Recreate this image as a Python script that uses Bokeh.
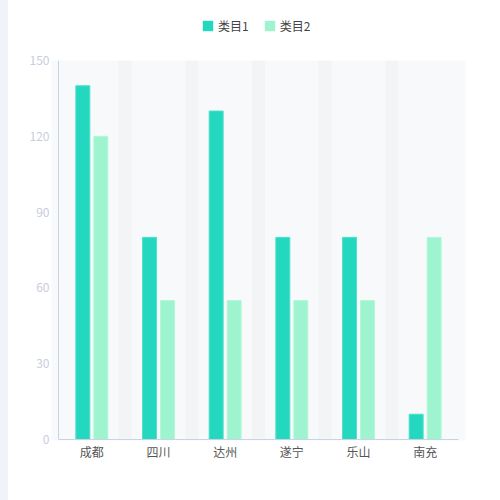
from bokeh.plotting import figure
from bokeh.models import Range1d, FixedTicker, Legend, LegendItem, ColumnDataSource, Spacer
from bokeh.layouts import column, row
from bokeh.embed import file_html
from bokeh.resources import INLINE

categories = ["成都", "四川", "达州", "遂宁", "乐山", "南充"]
series1 = [140, 80, 130, 80, 80, 10]
series2 = [120, 55, 55, 55, 55, 80]
series_names = ["类目1", "类目2"]
y_ticks = [0, 30, 60, 90, 120, 150]

FONT = "Noto Sans CJK SC"
C1 = "#23d8be"
C2 = "#9ef4ce"
PAGE = "#f2f3f8"

n = len(categories)
xs = [i + 0.5 for i in range(n)]
GAP = 8
W = 500 - GAP

# ---- legend strip ----
LH = 50
pl = figure(width=W, height=LH, output_backend="svg", toolbar_location=None,
            x_range=Range1d(0, 1), y_range=Range1d(0, 1),
            min_border_left=0, min_border_right=0, min_border_top=0, min_border_bottom=0)
pl.axis.visible = False
pl.grid.visible = False
pl.outline_line_color = None
pl.background_fill_color = "white"
pl.border_fill_color = "white"
d1 = pl.vbar(x=[-5], top=[0], width=0.1, fill_color=C1, line_color=None)
d2 = pl.vbar(x=[-5], top=[0], width=0.1, fill_color=C2, line_color=None)
legend = Legend(items=[LegendItem(label=series_names[0], renderers=[d1]),
                       LegendItem(label=series_names[1], renderers=[d2])],
                orientation="horizontal", location=(150, 16),
                glyph_width=13, glyph_height=13, label_standoff=4, spacing=14,
                padding=0, margin=0, border_line_color=None, background_fill_alpha=0,
                label_text_font=FONT, label_text_font_size="12px", label_text_color="#444444")
pl.add_layout(legend)

# ---- main chart ----
p = figure(width=W, height=447, output_backend="svg", toolbar_location=None,
           x_range=Range1d(-0.105, n + 0.105), y_range=Range1d(-0.4, 150),
           min_border_left=51 - GAP, min_border_right=35, min_border_top=60 - LH, min_border_bottom=57)
p.background_fill_color = "#f8f9fb"
p.border_fill_color = "white"
p.outline_line_color = None
p.xgrid.visible = False
p.ygrid.visible = False

# darker separator strips at category boundaries
p.vbar(x=list(range(1, n)), width=0.195, top=150, bottom=-0.4, fill_color="#f3f4f6", line_color=None)

src = ColumnDataSource(dict(x1=[x - 0.135 for x in xs], x2=[x + 0.135 for x in xs], s1=series1, s2=series2))
p.vbar(x="x1", top="s1", width=0.21, source=src, fill_color=C1, line_color="#4fe0cb", line_width=1)
p.vbar(x="x2", top="s2", width=0.21, source=src, fill_color=C2, line_color="#b5f7da", line_width=1)

# axis lines
p.segment(x0=[0, 0], y0=[0, 0], x1=[0, n], y1=[150, 0], line_color="#cbd2e3", line_width=1)

p.xaxis.ticker = FixedTicker(ticks=xs)
p.xaxis.major_label_overrides = {x: c for x, c in zip(xs, categories)}
p.xaxis.axis_line_color = None
p.xaxis.major_tick_line_color = None
p.xaxis.minor_tick_line_color = None
p.xaxis.major_tick_out = 0
p.xaxis.minor_tick_out = 0
p.xaxis.major_label_text_font = FONT
p.xaxis.major_label_text_font_size = "12px"
p.xaxis.major_label_text_color = "#555555"
p.xaxis.major_label_standoff = 2

p.yaxis.ticker = FixedTicker(ticks=y_ticks)
p.yaxis.axis_line_color = None
p.yaxis.major_tick_line_color = None
p.yaxis.minor_tick_line_color = None
p.yaxis.major_tick_out = 0
p.yaxis.minor_tick_out = 0
p.yaxis.major_label_text_font = FONT
p.yaxis.major_label_text_font_size = "12px"
p.yaxis.major_label_text_color = "#c6cde0"
p.yaxis.major_label_standoff = 2

left_strip = Spacer(width=GAP, height=500, styles={"background-color": PAGE})
layout = row(left_strip, column(pl, p, spacing=0), spacing=0)
open("out.html", "w").write(file_html(layout, INLINE))
